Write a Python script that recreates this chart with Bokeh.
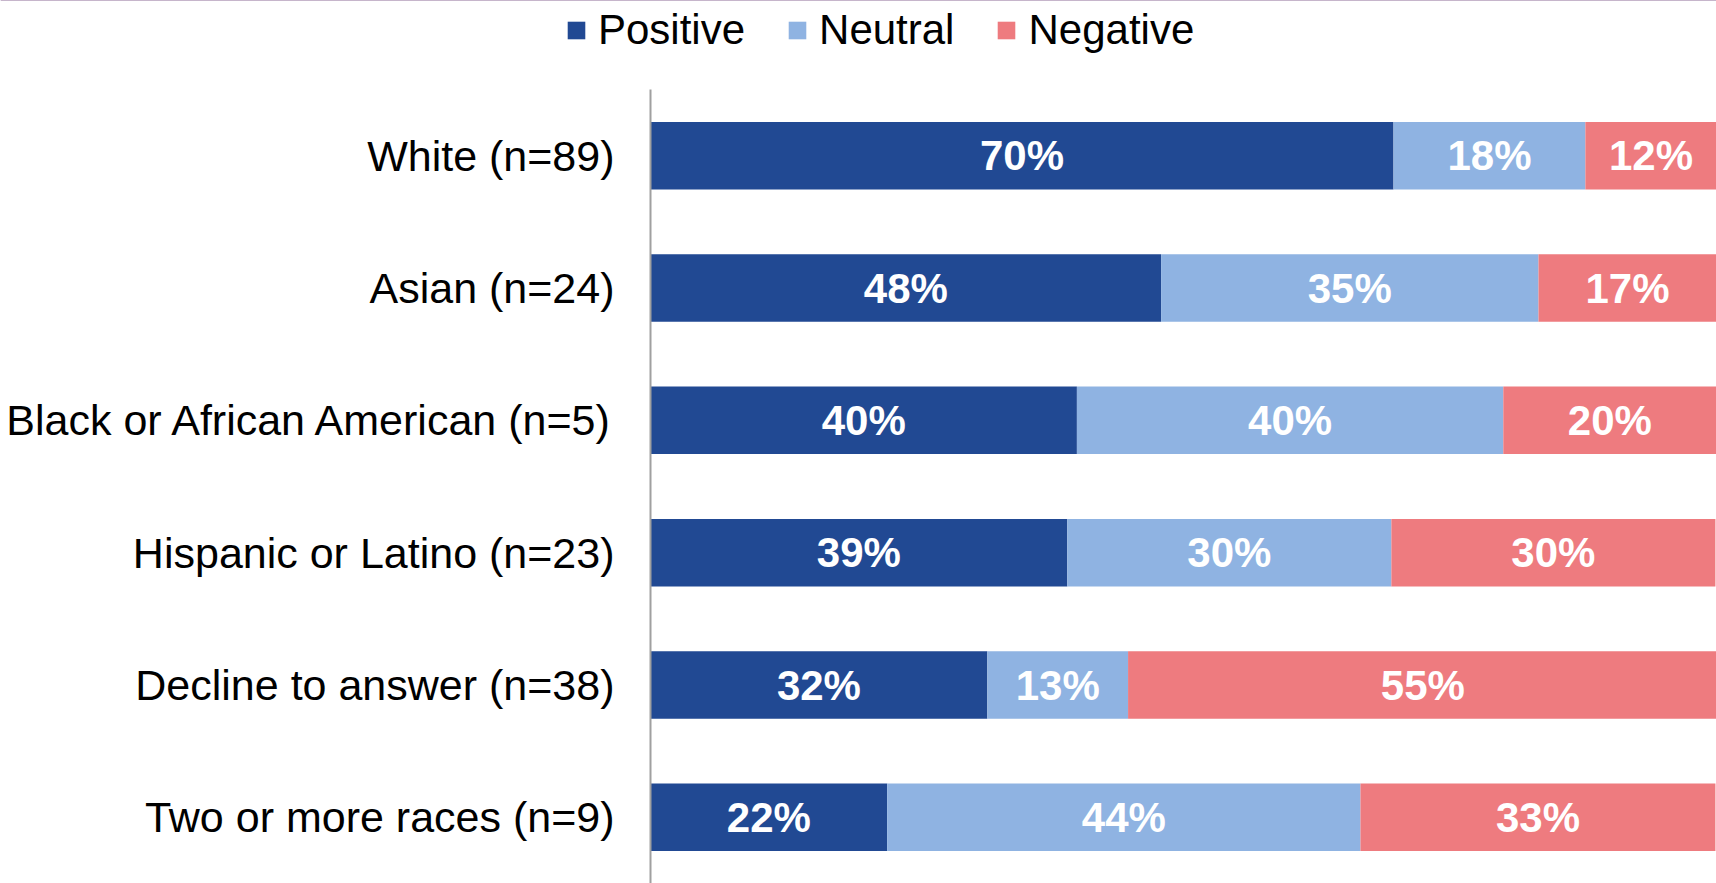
from bokeh.plotting import figure
from bokeh.models import ColumnDataSource, Range1d, FactorRange, Legend, LegendItem
from bokeh.layouts import column, row
from bokeh.core.properties import value
from bokeh.embed import file_html
from bokeh.resources import INLINE

categories = ["White (n=89)", "Asian (n=24)", "Black or African American (n=5)",
              "Hispanic or Latino (n=23)", "Decline to answer (n=38)", "Two or more races (n=9)"]
positive = [69.7, 47.9, 40.0, 39.1, 31.6, 22.2]
neutral = [18.0, 35.4, 40.0, 30.4, 13.2, 44.4]
negative = [12.3, 16.7, 20.0, 30.4, 55.3, 33.3]
series_names = ["Positive", "Neutral", "Negative"]
colors = ["#214993", "#8FB3E2", "#EE7B7F"]

FONT = "Liberation Sans"
W = 1716
TOP = 89
H = 883

# legend strip (separate plot so the legend can sit left of the bar area)
lg = figure(width=W, height=TOP, output_backend="svg", toolbar_location=None,
            x_range=Range1d(0, 1), y_range=Range1d(0, 1),
            min_border_left=0, min_border_right=0, min_border_top=0, min_border_bottom=0)
lg.axis.visible = False
lg.grid.visible = False
lg.outline_line_color = None
lg.border_fill_color = "white"
lg.background_fill_color = "white"
lg_renderers = []
for name, col in zip(series_names, colors):
    r = lg.hbar(y=[5], left=[0], right=[1], height=0.5, fill_color=col, line_color=None)
    lg_renderers.append(r)
legend = Legend(items=[LegendItem(label=n, renderers=[r]) for n, r in zip(series_names, lg_renderers)],
                orientation="horizontal", location=(565, 35),
                padding=0, margin=0, spacing=41, label_standoff=11,
                glyph_width=22, glyph_height=22,
                label_text_font=FONT, label_text_font_size="42px",
                label_text_color="black", border_line_color=None,
                background_fill_alpha=0)
lg.add_layout(legend, "center")

p = figure(width=W, height=H - TOP, output_backend="svg", toolbar_location=None,
           x_range=Range1d(0, 100), y_range=FactorRange(*list(reversed(categories))),
           min_border_left=650, min_border_top=0, min_border_right=0, min_border_bottom=0)
p.outline_line_color = None
p.xgrid.visible = False
p.ygrid.visible = False
p.xaxis.visible = False

yaxis = p.yaxis[0]
yaxis.axis_line_color = "#A0A0A0"
yaxis.axis_line_width = 2
yaxis.major_tick_line_color = None
yaxis.minor_tick_line_color = None
yaxis.major_tick_out = 0
yaxis.major_tick_in = 0
yaxis.major_label_standoff = 36
yaxis.major_label_text_font = FONT
yaxis.major_label_text_font_size = "43px"
yaxis.major_label_text_color = "black"

series = [positive, neutral, negative]
lefts = [0.0] * len(categories)
for name, vals, col in zip(series_names, series, colors):
    rights = [l + v for l, v in zip(lefts, vals)]
    centers = [(l + r) / 2 for l, r in zip(lefts, rights)]
    labels = [f"{round(v)}%" for v in vals]
    src = ColumnDataSource(dict(y=categories, left=lefts, right=rights, cx=centers, lab=labels))
    p.hbar(y="y", left="left", right="right", height=0.51, source=src,
           fill_color=col, line_color=None)
    p.text(x="cx", y="y", text="lab", source=src, text_color="white",
           text_font=value(FONT), text_font_style="bold", text_font_size="42px",
           text_align="center", text_baseline="middle")
    lefts = rights

open("out.html", "w").write(file_html(column(row(lg), p), INLINE))
